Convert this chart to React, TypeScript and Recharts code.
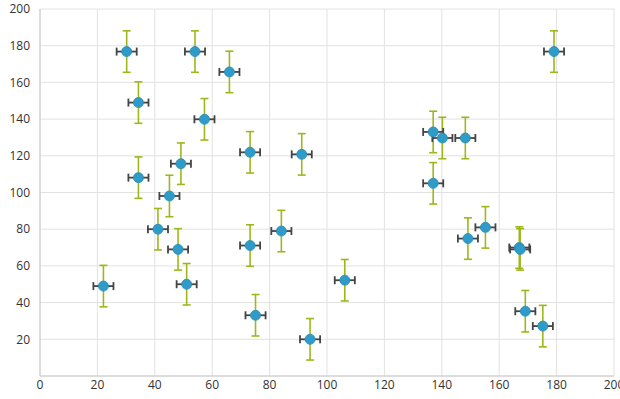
import { CartesianGrid, ErrorBar, Scatter, ScatterChart, XAxis, YAxis } from "recharts"

// x / y values, one entry per marker
const xValues = [
  30.2, 54, 66, 34.3, 57.3, 73.2, 91.2, 34.3, 49.1, 45.1, 41.1, 48.1, 51.1, 22.1, 73.2,
  84.1, 75.1, 94.1, 106.2, 137, 140.2, 148.2, 137, 149.1, 155.2, 167, 167.3, 169.1, 175.2, 179.1,
]
const yValues = [
  176.8, 176.8, 165.7, 149, 139.9, 121.9, 120.8, 108.1, 115.7, 98.1, 80, 69, 50, 49, 71.1,
  79, 33.1, 20, 52.2, 133, 129.7, 129.7, 105, 74.9, 81, 70, 69, 35.3, 27.2, 176.8,
]

// error bars are the same size on every point
const xError = 3.5
const yError = 11.3

const xTicks = [0, 20, 40, 60, 80, 100, 120, 140, 160, 180, 200]
const yTicks = [20, 40, 60, 80, 100, 120, 140, 160, 180, 200]

const points = xValues.map((x, i) => ({ x, y: yValues[i], ex: xError, ey: yError }))

const tickStyle = { fontSize: 12, fill: "#333", fontFamily: "'Open Sans', sans-serif" }

function Dot(props: { cx?: number; cy?: number }) {
  const { cx = 0, cy = 0 } = props
  return <circle cx={cx} cy={cy} r={5} fill="#2f9bc8" stroke="#2a8bb4" strokeWidth={0.8} />
}

export default function App() {
  return (
    <div style={{ position: "absolute", left: 0, top: 0, background: "#fff" }}>
      <ScatterChart width={620} height={399} margin={{ top: 9, right: 6, bottom: 0, left: 0 }}>
        <CartesianGrid stroke="#e2e2e2" strokeWidth={1} />
        <XAxis
          type="number"
          dataKey="x"
          domain={[0, 200]}
          ticks={xTicks}
          height={23}
          tickLine={false}
          tickSize={0}
          tickMargin={4}
          stroke="#c8c8c8"
          tick={tickStyle}
          interval={0}
        />
        <YAxis
          type="number"
          dataKey="y"
          domain={[0, 200]}
          ticks={yTicks}
          width={40}
          tickLine={false}
          tickSize={0}
          tickMargin={10}
          stroke="#c8c8c8"
          tick={tickStyle}
          interval={0}
        />
        <Scatter data={points} shape={Dot} isAnimationActive={false}>
          <ErrorBar dataKey="ey" direction="y" width={4} stroke="#9fb61c" strokeWidth={1.6} />
          <ErrorBar dataKey="ex" direction="x" width={4} stroke="#444" strokeWidth={1.8} />
        </Scatter>
      </ScatterChart>
    </div>
  )
}
